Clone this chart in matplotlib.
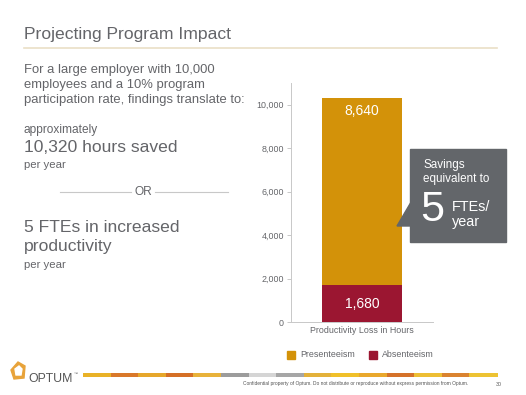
import matplotlib
matplotlib.use("Agg")
import matplotlib.pyplot as plt
from matplotlib.patches import Rectangle, Polygon

plt.rcParams['font.family'] = ['Liberation Sans', 'DejaVu Sans']

# data
category = "Productivity Loss in Hours"
series = ["Absenteeism", "Presenteeism"]
values = [1680, 8640]
colors = ["#9B1631", "#D39209"]
yticks = [0, 2000, 4000, 6000, 8000, 10000]

# footer band colours (left to right)
band_colors = ["#E9B227", "#D9782A", "#E6A72B", "#D56F26", "#E8B23A", "#9C9C9C",
               "#D5D5D5", "#A6A6A6", "#E3B13A", "#F0C02A", "#E9A82D", "#D5722A",
               "#EDBE34", "#DA8330", "#EDC333"]

W, H = 526, 395
fig = plt.figure(figsize=(W / 100, H / 100), dpi=100)

# overlay in pixel coords for slide decoration
bg = fig.add_axes([0, 0, 1, 1])
bg.set_xlim(0, W)
bg.set_ylim(H, 0)
bg.axis('off')
bg.set_zorder(2)

grey = "#63666A"
txt = "#646569"

bg.text(24, 34, "Projecting Program Impact", fontsize=12.6, color=txt, va='center')
bg.plot([24, 497], [47.5, 47.5], color="#EADFC6", lw=1.2)

lines = ["For a large employer with 10,000",
         "employees and a 10% program",
         "participation rate, findings translate to:"]
for i, s in enumerate(lines):
    bg.text(24, 70 + i * 14.8, s, fontsize=9.4, color=txt, va='center')

bg.text(24, 130, "approximately", fontsize=8.6, color=txt, va='center')
bg.text(24, 147.5, "10,320 hours saved", fontsize=12.6, color=txt, va='center')
bg.text(24, 165, "per year", fontsize=8.2, color=txt, va='center')

bg.plot([60, 131], [192, 192], color="#C8C8C8", lw=0.8)
bg.plot([155, 228], [192, 192], color="#C8C8C8", lw=0.8)
bg.text(143, 192, "OR", fontsize=8.6, color=txt, va='center', ha='center')

bg.text(24, 227, "5 FTEs in increased", fontsize=12.6, color=txt, va='center')
bg.text(24, 246.5, "productivity", fontsize=12.6, color=txt, va='center')
bg.text(24, 264.5, "per year", fontsize=8.2, color=txt, va='center')

# callout box
bg.add_patch(Rectangle((410, 149), 96, 93, color=grey, zorder=3))
bg.add_patch(Polygon([(410.5, 203), (397, 226), (410.5, 226)], closed=True,
                     color=grey, zorder=3))
bg.text(423, 165, "Savings", fontsize=8.4, color='white', va='center', zorder=4)
bg.text(423, 179, "equivalent to", fontsize=8.4, color='white', va='center', zorder=4)
bg.text(420, 210, "5", fontsize=31, color='white', va='center', zorder=4)
bg.text(452, 207, "FTEs/", fontsize=10.4, color='white', va='center', zorder=4)
bg.text(452, 222, "year", fontsize=10.4, color='white', va='center', zorder=4)

# legend
for x0, name, c in [(287, series[1], colors[1]), (369, series[0], colors[0])]:
    bg.add_patch(Rectangle((x0, 350.5), 8, 8, color=c))
    bg.text(x0 + 13, 354.5, name, fontsize=6.4, color=txt, va='center')

# footer
bg.add_patch(Polygon([(11, 370), (18, 362), (25, 366), (24, 378), (14, 379)],
                     closed=True, color="#E8A33A"))
bg.add_patch(Polygon([(15, 369), (19, 366), (22, 369), (21, 375), (16, 375)],
                     closed=True, color="white"))
bg.text(28, 379, "OPTUM", fontsize=8.8, color="#555555", va='center')
bg.text(74, 374, "\u2122", fontsize=3, color="#555555", va='center')
x0, x1 = 83, 497
seg = (x1 - x0) / len(band_colors)
for i, c in enumerate(band_colors):
    bg.add_patch(Rectangle((x0 + i * seg, 372.5), seg + 0.5, 4, color=c, lw=0))
bg.text(243, 384, "Confidential property of Optum. Do not distribute or reproduce "
        "without express permission from Optum.", fontsize=3.5, color="#555555",
        va='center')
bg.text(496, 384, "30", fontsize=3.8, color="#555555", va='center')

# chart
ax = fig.add_axes([291 / W, 1 - 322 / H, 142 / W, 239 / H])
ax.set_zorder(1)
bottom = 0
for name, v, c in zip(series, values, colors):
    ax.bar(0, v, bottom=bottom, width=0.563, color=c, label=name)
    ax.text(0, bottom + v - 600 if v > 5000 else bottom + v / 2, f"{v:,}",
            ha='center', va='center', color='white', fontsize=10)
    bottom += v
ax.set_xlim(-0.5, 0.5)
ax.set_ylim(0, 11000)
ax.set_yticks(yticks)
ax.set_yticklabels([f"{t:,}" for t in yticks])
ax.set_xticks([])
ax.tick_params(axis='y', labelsize=6.4, colors="#BFBFBF", labelcolor=txt,
               length=3, width=0.6, pad=2)
for s in ['top', 'right']:
    ax.spines[s].set_visible(False)
for s in ['left', 'bottom']:
    ax.spines[s].set_color("#C8C8C8")
    ax.spines[s].set_linewidth(0.7)
ax.set_xlabel(category, fontsize=6.4, color=txt, labelpad=3)
ax.patch.set_alpha(0)

fig.savefig("out.png", dpi=100)
